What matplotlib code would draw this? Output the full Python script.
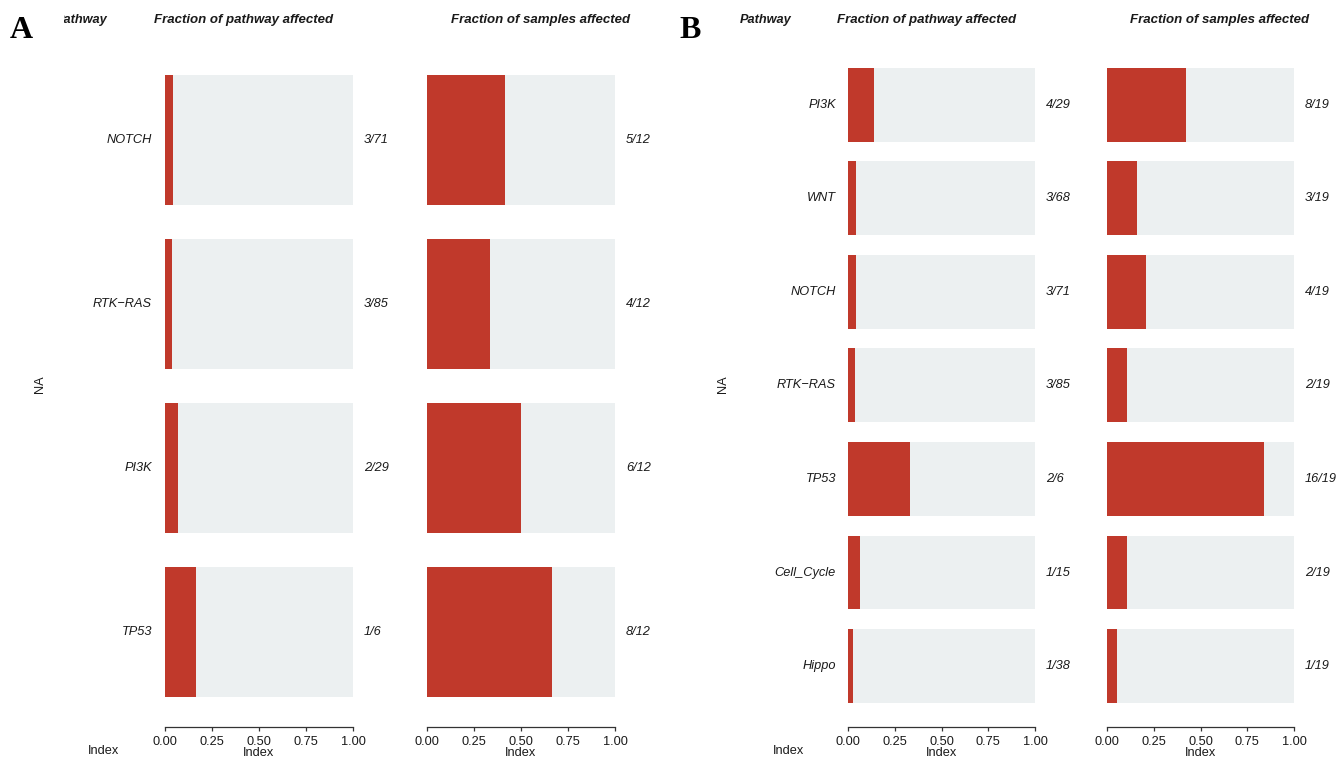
import matplotlib
matplotlib.use("Agg")
import matplotlib.pyplot as plt
from matplotlib.transforms import Bbox

plt.rcParams["font.family"] = ["Liberation Sans", "DejaVu Sans"]

# ---------------- data ----------------
a_pathways = ["NOTCH", "RTK−RAS", "PI3K", "TP53"]
a_genes_hit = [3, 3, 2, 1]
a_genes_total = [71, 85, 29, 6]
a_samples_hit = [5, 4, 6, 8]
a_samples_total = [12, 12, 12, 12]

b_pathways = ["PI3K", "WNT", "NOTCH", "RTK−RAS", "TP53", "Cell_Cycle", "Hippo"]
b_genes_hit = [4, 3, 3, 3, 2, 1, 1]
b_genes_total = [29, 68, 71, 85, 6, 15, 38]
b_samples_hit = [8, 3, 4, 2, 16, 2, 1]
b_samples_total = [19, 19, 19, 19, 19, 19, 19]

tick_values = [0.0, 0.25, 0.5, 0.75, 1.0]
tick_labels = ["0.00", "0.25", "0.50", "0.75", "1.00"]

RED = "#C0392B"
GREY = "#ECF0F1"
TEXT = "#1a1a1a"
FS = 9.2

W, H = 1338, 758
fig = plt.figure(figsize=(W / 100, H / 100), dpi=100)


def fx(x):
    return x / W


def fy(y):
    return 1 - y / H


def px_axes(x0, x1, top, bottom):
    return fig.add_axes([fx(x0), fy(bottom), (x1 - x0) / W, (bottom - top) / H])


TOP, BOTTOM = 58, 727
BAR_H = 0.79


def row_limits(n, bars_bottom):
    # row spacing from first row top edge to last bar's lower edge
    spacing = (bars_bottom - TOP) / (n - 0.5 + BAR_H / 2)
    return (BOTTOM - TOP) / spacing - 0.5, -0.5


def bar_column(x0, x1, hit, total, ylim):
    ax = px_axes(x0, x1, TOP, BOTTOM)
    rows = list(range(len(hit)))
    frac = [h / t for h, t in zip(hit, total)]
    ax.barh(rows, [1.0] * len(rows), height=BAR_H, color=GREY, linewidth=0)
    ax.barh(rows, frac, height=BAR_H, color=RED, linewidth=0)
    ax.set_xlim(0, 1)
    ax.set_ylim(*ylim)
    for side in ("top", "right", "left"):
        ax.spines[side].set_visible(False)
    ax.spines["bottom"].set_color("#333333")
    ax.spines["bottom"].set_linewidth(0.9)
    ax.set_yticks([])
    ax.set_xticks(tick_values)
    ax.set_xticklabels(tick_labels)
    ax.tick_params(axis="x", direction="out", length=3, width=0.9, color="#333333",
                   pad=3.5, labelsize=FS, labelcolor=TEXT)
    ax.set_xlabel("Index", fontsize=FS, color=TEXT, labelpad=-0.5)
    for r, h, t in zip(rows, hit, total):
        ax.annotate(f"{h}/{t}", xy=(1, r), xytext=(11, 0), textcoords="offset pixels",
                    ha="left", va="center", fontsize=FS, style="italic", color=TEXT)
    return ax


def name_column(x0, x1, names, ylim):
    ax = px_axes(x0, x1, TOP, BOTTOM)
    ax.set_ylim(*ylim)
    ax.set_xlim(0, 1)
    ax.axis("off")
    for r, name in enumerate(names):
        ax.text(1, r, name, ha="right", va="center", fontsize=FS, style="italic",
                color=TEXT)
    return ax


def panel(letter, lx, names, g_hit, g_tot, s_hit, s_tot, bars_bottom,
          name_x0, name_x1, ax1, ax2, na_x, title_x1, title_x2, clip_left=None):
    ylim = row_limits(len(names), bars_bottom)
    name_column(name_x0, name_x1, names, ylim)
    bar_column(ax1[0], ax1[1], g_hit, g_tot, ylim)
    bar_column(ax2[0], ax2[1], s_hit, s_tot, ylim)

    fig.text(fx(lx), fy(31), letter, ha="center", va="center", fontsize=23,
             fontweight="bold", family=["Liberation Serif", "DejaVu Serif"])
    t = fig.text(fx(name_x0), fy(19.5), "Pathway", ha="left", va="center",
                 fontsize=FS, fontweight="bold", style="italic", color=TEXT)
    if clip_left is not None:
        box = Bbox.from_extents(clip_left, 0, W, H)
        t.set_clip_box(box)
        t.set_clip_on(True)
    fig.text(fx(title_x1), fy(19.5), "Fraction of pathway affected", ha="center",
             va="center", fontsize=9.5, fontweight="bold", style="italic", color=TEXT)
    fig.text(fx(title_x2), fy(19.5), "Fraction of samples affected", ha="center",
             va="center", fontsize=9.5, fontweight="bold", style="italic", color=TEXT)
    fig.text(fx(na_x), fy(384), "NA", rotation=90, ha="center", va="center",
             fontsize=FS, color=TEXT)
    fig.text(fx((name_x0 + name_x1) / 2), fy(751.5), "Index", ha="center",
             va="center", fontsize=FS, color=TEXT)


panel("A", 21, a_pathways, a_genes_hit, a_genes_total, a_samples_hit,
      a_samples_total, 697, 56, 152, (165, 353), (427, 615), 40, 244, 541,
      clip_left=64)
panel("B", 690, b_pathways, b_genes_hit, b_genes_total, b_samples_hit,
      b_samples_total, 703, 740, 836, (848, 1035), (1107, 1294), 723, 927, 1219.5)

fig.savefig("out.png", dpi=100)
